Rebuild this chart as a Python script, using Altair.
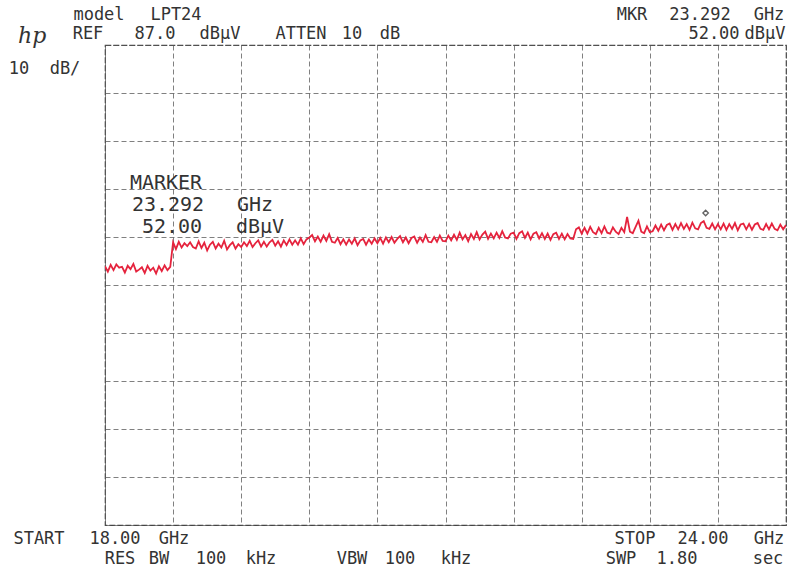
import altair as alt
import pandas as pd

# ---- data ----
start_ghz = 18.0
step_ghz = 0.025
level_dbuv = [
    # 18.000 - 18.575
    40.9, 39.8, 41.2, 40.1, 41.3, 40.6, 40.8, 39.6, 41.0, 40.3, 41.4, 39.8,
    40.2, 40.7, 39.5, 41.0, 40.0, 40.6, 39.4, 40.9, 39.9, 41.1, 40.1, 40.8,
    # 18.600 - 19.175
    45.9, 44.5, 46.0, 44.8, 45.7, 45.1, 45.9, 44.9, 44.6, 46.1, 44.7, 45.8,
    44.2, 45.4, 46.0, 44.6, 45.6, 44.8, 46.2, 44.4, 45.3, 45.9, 44.6, 45.5,
    # 19.200 - 19.775
    44.9, 45.9, 45.1, 46.2, 44.9, 45.7, 46.3, 45.0, 46.0, 45.0, 45.9, 46.4,
    45.2, 46.1, 45.0, 46.3, 45.3, 46.5, 45.4, 46.3, 45.4, 46.7, 45.5, 46.5,
    # 19.800 - 20.375
    46.9, 47.4, 46.1, 47.1, 46.0, 47.3, 46.2, 47.6, 46.0, 45.8, 46.8, 45.5,
    46.5, 45.4, 46.5, 45.6, 46.7, 45.3, 46.3, 46.6, 45.4, 46.5, 45.6, 46.7,
    # 20.400 - 20.975
    45.7, 46.8, 45.6, 46.9, 45.9, 47.0, 45.8, 46.6, 47.2, 45.9, 46.9, 45.7,
    46.8, 47.1, 45.8, 46.9, 46.0, 47.4, 46.0, 45.9, 47.0, 46.0, 47.3, 46.2,
    # 21.000 - 21.575
    46.1, 47.3, 46.3, 47.5, 46.4, 47.9, 46.5, 47.4, 46.1, 47.6, 46.6, 48.0,
    46.5, 47.5, 48.1, 46.6, 47.7, 46.7, 47.9, 46.8, 48.2, 46.9, 46.7, 47.7,
    # 21.600 - 22.200
    47.9, 46.6, 47.8, 48.2, 46.8, 47.9, 46.5, 47.7, 48.0, 46.7, 47.8, 46.6,
    47.7, 46.4, 47.6, 47.9, 46.6, 47.7, 46.5, 47.6, 46.7, 46.6, 48.6, 49.0, 47.7,
    # 22.225 - 22.800
    48.9, 47.7, 49.1, 48.0, 47.6, 48.9, 47.8, 49.2, 47.9, 47.7, 49.0, 48.1,
    47.6, 48.9, 48.0, 51.2, 48.1, 47.8, 49.1, 50.4, 48.1, 47.8, 49.2, 48.0,
    # 22.825 - 23.400
    48.2, 49.4, 48.3, 49.6, 48.4, 49.5, 49.8, 48.5, 49.7, 48.6, 49.9, 48.7,
    49.7, 48.5, 50.0, 48.8, 48.6, 49.9, 50.3, 48.9, 48.7, 49.8, 48.6, 49.7,
    # 23.425 - 24.000
    48.6, 49.8, 48.5, 49.7, 48.7, 49.9, 48.4, 49.6, 49.8, 48.6, 49.7, 48.5,
    49.6, 49.9, 48.7, 48.5, 49.7, 48.6, 49.8, 48.7, 48.4, 49.6, 48.6, 49.5,
]
freq_ghz = [round(start_ghz + step_ghz * i, 3) for i in range(len(level_dbuv))]

marker_freq = [23.292]
marker_level = [52.0]

x_grid = [18.0, 18.6, 19.2, 19.8, 20.4, 21.0, 21.6, 22.2, 22.8, 23.4, 24.0]
y_grid = [-13, -3, 7, 17, 27, 37, 47, 57, 67, 77, 87]

# annotation words (plotter text) and their layout on the page (word centres)
words = ["model", "LPT24",
         "REF", "87.0", "dBµV", "ATTEN", "10", "dB",
         "MKR", "23.292", "GHz",
         "52.00", "dBµV",
         "10", "dB/",
         "START", "18.00", "GHz",
         "STOP", "24.00", "GHz",
         "RES", "BW", "100", "kHz",
         "VBW", "100", "kHz",
         "SWP", "1.80", "sec"]
word_cx = [99, 176,
           88, 155, 220, 301, 352, 390,
           632, 700, 769,
           714, 765,
           19, 65,
           39, 115, 174,
           635, 703, 769,
           120, 159, 211, 261,
           352, 400, 456,
           621, 677, 768]
word_base = [20, 20,
             39, 39, 39, 39, 39, 39,
             20, 20, 20,
             39, 39,
             74, 74,
             544, 544, 544,
             544, 544, 544,
             564, 564, 564, 564,
             564, 564, 564,
             564, 564, 564]

mk_words = ["MARKER", "23.292", "GHz", "52.00", "dBµV"]
mk_cx = [166, 168, 255, 172, 260]
mk_base = [189, 211, 211, 233, 233]

trace = pd.DataFrame({"f": freq_ghz, "l": level_dbuv})
mk = pd.DataFrame({"f": marker_freq, "l": marker_level})

W, H = 681, 480
PL, PT = 105, 45
MONO = "DejaVu Sans Mono"
INK = "#333333"

xs = alt.Scale(domain=[18, 24], nice=False, zero=False)
ys = alt.Scale(domain=[-13, 87], nice=False, zero=False)

grid_style = dict(labels=False, ticks=False, domain=False, title=None, grid=True,
                  gridColor="#555555", gridDash=[5, 3], gridOpacity=0.75, gridWidth=1)
x_ax = alt.Axis(values=x_grid, **grid_style)
y_ax = alt.Axis(values=y_grid, **grid_style)

line = alt.Chart(trace).mark_line(color="#e5233d", strokeWidth=1.8, clip=True).encode(
    x=alt.X("f:Q", scale=xs, axis=x_ax),
    y=alt.Y("l:Q", scale=ys, axis=y_ax),
)

marker = alt.Chart(mk).mark_point(shape="diamond", size=30, color="#222222", filled=False,
                                  strokeWidth=1.3).encode(
    x=alt.X("f:Q", scale=xs),
    y=alt.Y("l:Q", scale=ys),
)


def text_layer(texts, xs_, ys_, size):
    d = pd.DataFrame({"w": texts,
                      "px": [v - PL for v in xs_],
                      "py": [v - PT for v in ys_]})
    return alt.Chart(d).mark_text(
        align="center", baseline="alphabetic", font=MONO, fontSize=size, color=INK
    ).encode(x=alt.X("px:Q", scale=None), y=alt.Y("py:Q", scale=None), text="w:N")


hdr_text = text_layer(words, word_cx, word_base, 17)
mk_text = text_layer(mk_words, mk_cx, mk_base, 20)

logo = alt.Chart(pd.DataFrame({"w": ["hp"]})).mark_text(
    align="left", baseline="alphabetic", font="DejaVu Serif", fontSize=22,
    fontStyle="italic", color=INK
).encode(x=alt.value(18 - PL), y=alt.value(43 - PT), text="w:N")

chart = alt.layer(line, marker, hdr_text, mk_text, logo).properties(
    width=W, height=H,
    padding={"left": PL, "top": PT, "right": 789 - PL - W, "bottom": 568 - PT - H},
    autosize="none",
    background="white",
).configure_view(stroke="#444444", strokeDash=[6, 2], strokeWidth=1.2)

chart.save("out.html", embed_options={"renderer": "svg", "actions": False})
